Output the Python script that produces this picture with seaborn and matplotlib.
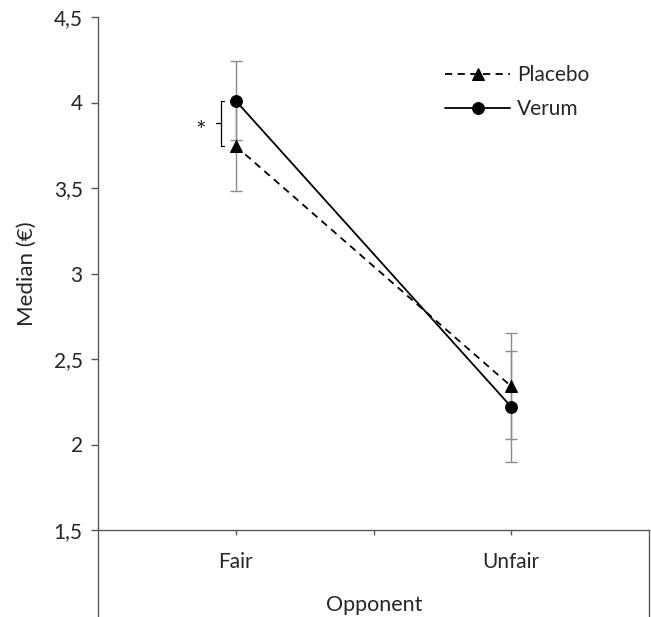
import numpy as np
import pandas as pd
import matplotlib
matplotlib.use("Agg")
import matplotlib.pyplot as plt
import seaborn as sns

# data
opponents = ["Fair", "Unfair"]
groups = ["Placebo", "Verum"]
placebo_median = [3.745, 2.34]
verum_median = [4.01, 2.22]
placebo_err = [0.265, 0.31]
verum_err = [0.23, 0.325]
yticks = [1.5, 2.0, 2.5, 3.0, 3.5, 4.0, 4.5]

sns.set_style("white")
plt.rcParams['font.family'] = ['Lato', 'DejaVu Sans']

df = pd.DataFrame({
    "opponent": opponents * 2,
    "pos": list(range(len(opponents))) * 2,
    "group": [groups[0]] * len(opponents) + [groups[1]] * len(opponents),
    "median": placebo_median + verum_median,
    "err": placebo_err + verum_err,
})

fig = plt.figure(figsize=(6.51, 6.17), dpi=100)
ax = fig.add_axes([98 / 651, 1 - 530 / 617, 551 / 651, 513 / 617])

# grey error bars underneath
for g in groups:
    sub = df[df["group"] == g]
    ax.errorbar(sub["pos"], sub["median"], yerr=sub["err"], fmt="none",
                ecolor="#8c8c8c", elinewidth=1, capsize=4, capthick=1, zorder=1)

sns.lineplot(data=df, x="pos", y="median", style="group", style_order=groups,
             markers={"Placebo": "^", "Verum": "o"},
             dashes={"Placebo": (4, 3), "Verum": ""},
             color="black", linewidth=1.3, markersize=8.5, markeredgecolor="black",
             ax=ax, zorder=3)

# significance bracket at Fair
yb0, yb1 = placebo_median[0], verum_median[0]
ym = (yb0 + yb1) / 2
bx = -0.055
ax.plot([bx + 0.012, bx, bx, bx + 0.012], [yb1, yb1, yb0, yb0], color="black", lw=0.9)
ax.plot([bx, bx - 0.018], [ym, ym], color="black", lw=0.9)
ax.text(-0.127, ym - 0.05, "*", ha="center", va="center", fontsize=18)

ax.set_xlim(-0.5, 1.5)
ax.set_ylim(1.5, 4.5)
ax.set_yticks(yticks)
ax.set_yticklabels([f"{v:g}".replace(".", ",") for v in yticks], fontsize=15)
ax.set_xticks([0, 0.5, 1])
ax.set_xticklabels([opponents[0], "", opponents[1]], fontsize=15)
ax.tick_params(axis="y", direction="out", length=5, width=1, color="#595959", left=True, pad=6)
ax.tick_params(axis="x", direction="out", length=3.5, width=1, color="#595959", bottom=True, pad=12)

for s in ["top", "right"]:
    ax.spines[s].set_visible(False)
for s in ["left", "bottom"]:
    ax.spines[s].set_color("#595959")
    ax.spines[s].set_linewidth(1)

# frame lines continuing below the category axis
ext = -87 / 513
ax.plot([0, 0], [0, ext], transform=ax.transAxes, color="#595959", lw=1, clip_on=False)
ax.plot([1, 1], [0, ext], transform=ax.transAxes, color="#595959", lw=1, clip_on=False)

ax.set_ylabel("Median (€)", fontsize=16, labelpad=12)
ax.set_xlabel("")
fig.text((98 + 651) / 2 / 651, 1 - 605 / 617, "Opponent", ha="center", va="center", fontsize=15.5)

ax.legend(loc="upper left", bbox_to_anchor=((437 - 98) / 551, 1 - 40 / 513),
          frameon=False, fontsize=15, handlelength=3.1, handletextpad=0.35,
          labelspacing=0.65, borderaxespad=0)

fig.savefig("out.png", dpi=100)
